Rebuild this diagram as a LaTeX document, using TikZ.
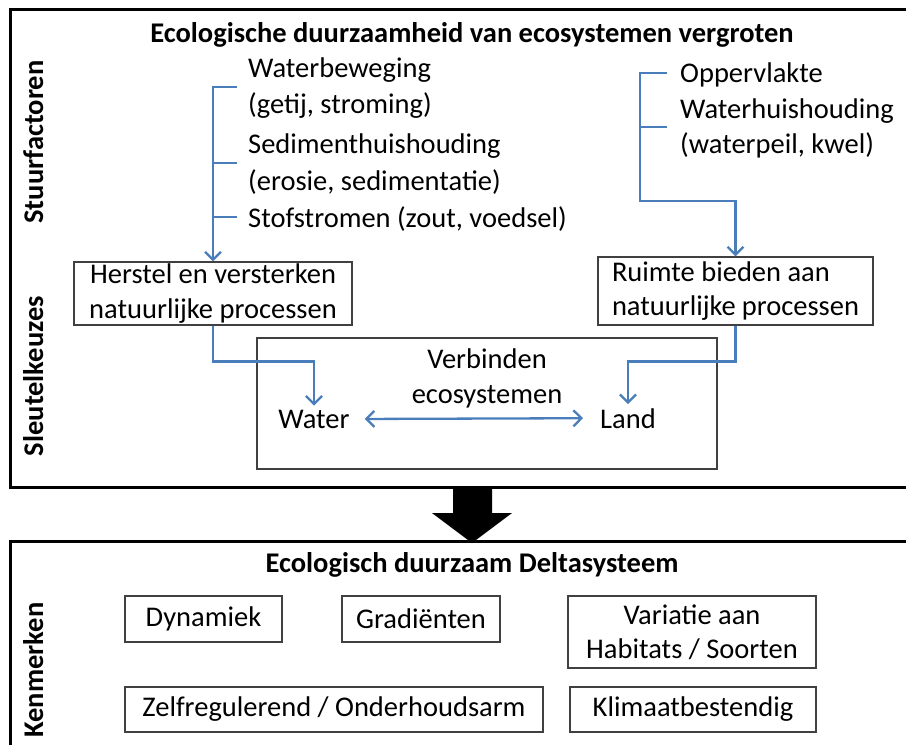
\documentclass[tikz,border=0pt]{standalone}
\usepackage{fontspec}
\setmainfont{Carlito}
\usetikzlibrary{arrows.meta}
\definecolor{bl}{HTML}{4A7EBB}
\definecolor{boxline}{HTML}{404040}
\tikzset{
  frame/.style={draw=black, line width=3pt},
  boxed/.style={draw=boxline, line width=1.1pt, inner sep=0pt, align=center},
  barb/.tip={Straight Barb[length=8pt,width=16pt,line width=2.3pt]},
  conn/.style={draw=bl, line width=2.3pt, -barb},
  plainconn/.style={draw=bl, line width=2.3pt},
  txt/.style={inner sep=0pt, anchor=base west},
  side/.style={rotate=90, font=\fontsize{28.5}{34}\selectfont\bfseries, inner sep=0pt, anchor=base},
  ttl/.style={font=\fontsize{28.5}{34}\selectfont\bfseries, inner sep=0pt, anchor=base},
}
\begin{document}
\begin{tikzpicture}[x=1pt,y=-1pt, font=\fontsize{28.5}{34.5}\selectfont]
\useasboundingbox (0,0) rectangle (906,745);
% frames
\draw[frame] (10,9) rectangle (920,487);
\draw[frame] (10,541) rectangle (920,760);
% big arrow
\fill[black] (453,487) -- (492,487) -- (492,513) -- (512,513) -- (472,543) -- (432,513) -- (453,513) -- cycle;
% titles
\node[ttl] (t1) at (472,42) {Ecologische duurzaamheid van ecosystemen vergroten};
\node[ttl] (t2) at (472,572) {Ecologisch duurzaam Deltasysteem};
% side labels
\node[side] (s1) at (43,142) {Stuurfactoren};
\node[side] (s2) at (43,376) {Sleutelkeuzes};
\node[side] (s3) at (43,670) {Kenmerken};
% left factors
\node[txt] (l1) at (248,77) {Waterbeweging};
\node[txt] (l2) at (248,113) {(getij, stroming)};
\node[txt] (l3) at (248,153) {Sedimenthuishouding};
\node[txt] (l4) at (248,190) {(erosie, sedimentatie)};
\node[txt] (l5) at (248,227) {Stofstromen (zout, voedsel)};
% right factors
\node[txt] (r1) at (680,82) {Oppervlakte};
\node[txt] (r2) at (680,118) {Waterhuishouding};
\node[txt] (r3) at (680,153) {(waterpeil, kwel)};
% key choice boxes
\node[boxed, minimum width=278pt, minimum height=63pt] (herstel) at (213,293.5) {Herstel en versterken\\natuurlijke processen};
\node[boxed, minimum width=275pt, minimum height=68pt, text width=247pt, align=flush left, inner xsep=14pt] (ruimte) at (735.5,291) {Ruimte bieden aan\\natuurlijke processen};
\node[draw=boxline, line width=1.1pt, minimum width=460pt, minimum height=131pt, inner sep=0pt] (verb) at (487,403.5) {};
\node[inner sep=0pt, anchor=base] (v1) at (487,368) {Verbinden};
\node[inner sep=0pt, anchor=base] (v2) at (487,403) {ecosystemen};
\node[inner xsep=15pt, inner ysep=4pt, anchor=base] (water) at (314,428) {Water};
\node[inner xsep=17pt, inner ysep=4pt, anchor=base] (land) at (628,428) {Land};
% connectors left
\coordinate (lt1) at (237,87);
\coordinate (lt2) at (237,163);
\coordinate (lt3) at (237,217);
\draw[conn] (lt1) -| (herstel.north);
\draw[plainconn] (lt2) -- (lt2 -| herstel.north);
\draw[plainconn] (lt3) -- (lt3 -| herstel.north);
% connectors right
\coordinate (rt1) at (667,73);
\coordinate (rt2) at (667,127);
\coordinate (rbend) at (640,201);
\draw[conn] (rt1) -| (rbend) -| (ruimte.north);
\draw[plainconn] (rt2) -- (rt2 -| rbend);
% to water / land
\draw[conn] (herstel.south) -- ++(0,36) -| (water.north);
\draw[conn] (ruimte.south) -- ++(0,36) -| (land.north);
\draw[conn, barb-barb] (water.east) -- (land.west);
% Kenmerken boxes
\node[boxed, minimum width=157pt, minimum height=46pt] (dyn) at (203.5,619) {Dynamiek};
\node[boxed, minimum width=158pt, minimum height=46pt] (grad) at (421,619) {Gradiënten};
\node[boxed, minimum width=248pt, minimum height=72pt] (var) at (692,632) {Variatie aan\\Habitats / Soorten};
\node[boxed, minimum width=418pt, minimum height=45pt] (zelf) at (334,709.5) {Zelfregulerend / Onderhoudsarm};
\node[boxed, minimum width=246pt, minimum height=45pt] (klim) at (693,709.5) {Klimaatbestendig};
\end{tikzpicture}
\end{document}
